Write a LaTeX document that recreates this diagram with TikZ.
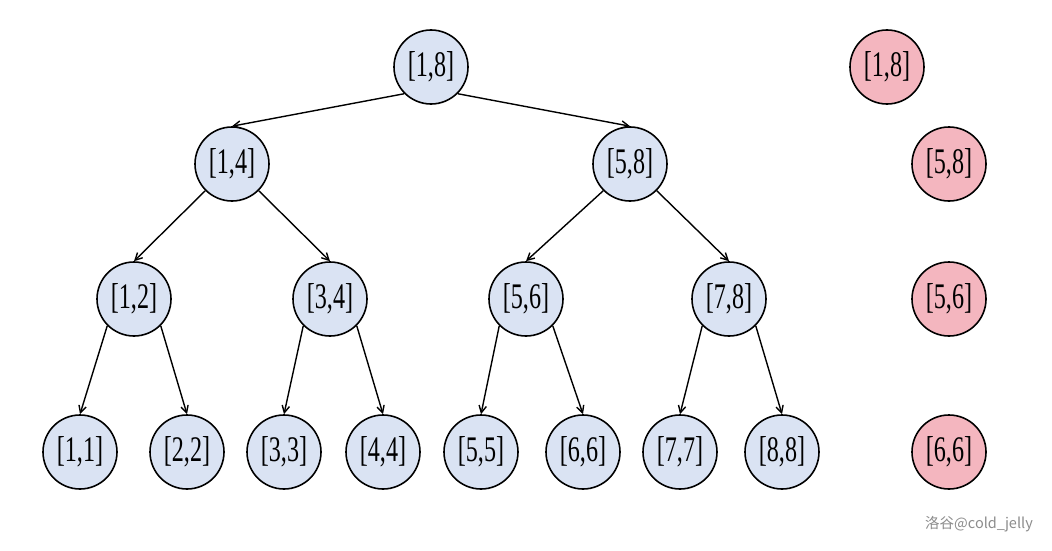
\documentclass[tikz,border=0pt]{standalone}
\usepackage{fontspec}
\setmainfont{Liberation Serif}
\newfontfamily\cjkfont{Noto Sans CJK SC}
\usetikzlibrary{arrows.meta}
\definecolor{nodeblue}{HTML}{DAE3F3}
\definecolor{nodered}{HTML}{F4B6BF}
\newcommand{\lbl}[1]{\scalebox{0.67}[1]{#1}}
\begin{document}
\begin{tikzpicture}[x=1pt,y=-1pt,
  seg/.style={circle,draw=black,line width=1.6pt,fill=nodeblue,minimum size=74pt,inner sep=0pt,font=\fontsize{36}{40}\selectfont},
  segred/.style={seg,fill=nodered},
  edge/.style={line width=1.4pt,-{Straight Barb[angle=55:8pt,line width=1.4pt]}}]
\useasboundingbox (0,0) rectangle (1052,551);
\fill[white] (0,0) rectangle (1052,551);
\node[seg] (n18) at (431,67) {\lbl{[1,8]}};
\node[seg] (n14) at (232,164) {\lbl{[1,4]}};
\node[seg] (n58) at (630,164) {\lbl{[5,8]}};
\node[seg] (n12) at (134,299) {\lbl{[1,2]}};
\node[seg] (n34) at (330,299) {\lbl{[3,4]}};
\node[seg] (n56) at (526,299) {\lbl{[5,6]}};
\node[seg] (n78) at (729,299) {\lbl{[7,8]}};
\node[seg] (n11) at (80,452) {\lbl{[1,1]}};
\node[seg] (n22) at (187,452) {\lbl{[2,2]}};
\node[seg] (n33) at (284,452) {\lbl{[3,3]}};
\node[seg] (n44) at (383,452) {\lbl{[4,4]}};
\node[seg] (n55) at (481,452) {\lbl{[5,5]}};
\node[seg] (n66) at (583,452) {\lbl{[6,6]}};
\node[seg] (n77) at (680,452) {\lbl{[7,7]}};
\node[seg] (n88) at (782,452) {\lbl{[8,8]}};
\node[segred] (r18) at (887,67) {\lbl{[1,8]}};
\node[segred] (r58) at (949,164) {\lbl{[5,8]}};
\node[segred] (r56) at (949,299) {\lbl{[5,6]}};
\node[segred] (r66) at (949,452) {\lbl{[6,6]}};
\draw[edge] (n18.south west) -- (n14.north);
\draw[edge] (n18.south east) -- (n58.north);
\draw[edge] (n14.south west) -- (n12.north);
\draw[edge] (n14.south east) -- (n34.north);
\draw[edge] (n58.south west) -- (n56.north);
\draw[edge] (n58.south east) -- (n78.north);
\draw[edge] (n12.south west) -- (n11.north);
\draw[edge] (n12.south east) -- (n22.north);
\draw[edge] (n34.south west) -- (n33.north);
\draw[edge] (n34.south east) -- (n44.north);
\draw[edge] (n56.south west) -- (n55.north);
\draw[edge] (n56.south east) -- (n66.north);
\draw[edge] (n78.south west) -- (n77.north);
\draw[edge] (n78.south east) -- (n88.north);
\node[text=black!45,font=\cjkfont\fontsize{14.5}{16}\selectfont] (wm) at (979,524) {洛谷@cold\_jelly};
\end{tikzpicture}
\end{document}
